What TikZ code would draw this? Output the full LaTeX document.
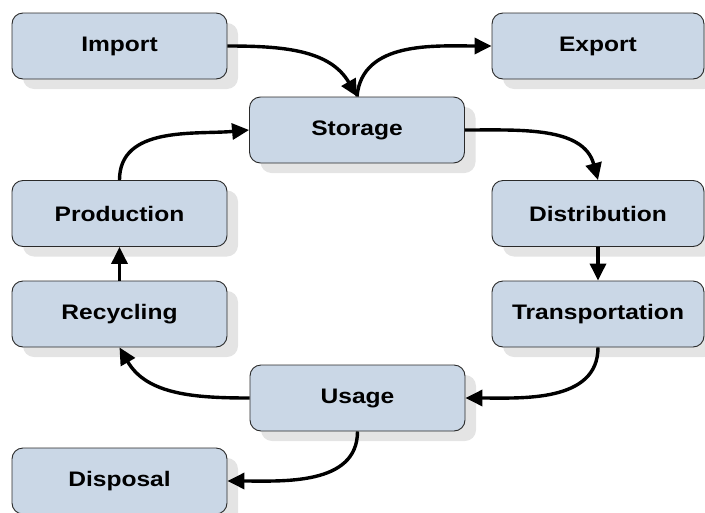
\documentclass[tikz,border=0pt]{standalone}
\usepackage{fontspec}
\setmainfont{Liberation Sans}[FakeStretch=1.17]
\usetikzlibrary{arrows.meta,shadows}
\definecolor{boxfill}{HTML}{CAD7E6}
\definecolor{boxline}{HTML}{2A2A2A}
\definecolor{shadowc}{HTML}{E4E4E4}
\begin{document}
\begin{tikzpicture}[x=1pt,y=-1pt,
  stepbox/.style={draw=boxline, line width=0.9pt, fill=boxfill, rounded corners=11pt,
    minimum width=215pt, minimum height=66pt, inner sep=0pt,
    font=\fontsize{21}{25}\selectfont\bfseries,
    drop shadow={shadow xshift=11pt, shadow yshift=-10pt, fill=shadowc, opacity=1}},
  narrowbox/.style={stepbox, minimum width=212pt},
  flow/.style={line width=3.4pt, -{Triangle[length=17pt,width=16pt]}}]
\useasboundingbox (0,0) rectangle (705,512);
\node[stepbox] (imp) at (119.5,46) {Import};
\node[narrowbox] (exp) at (598,46) {Export};
\node[stepbox] (sto) at (357,130) {Storage};
\node[stepbox] (pro) at (119.5,213.5) {Production};
\node[narrowbox] (dis) at (598,213.5) {Distribution};
\node[stepbox] (rec) at (119.5,314) {Recycling};
\node[narrowbox] (tra) at (598,314) {Transportation};
\node[stepbox] (usa) at (357.5,398) {Usage};
\node[stepbox] (dsp) at (119.5,481) {Disposal};
\draw[flow] (imp.east) to[out=0,in=120] (sto.north);
\draw[flow] (sto.north) to[out=85,in=180] (exp.west);
\draw[flow] (pro.north) to[out=90,in=185] (sto.west);
\draw[flow] (sto.east) to[out=0,in=105] (dis.north);
\draw[flow] (dis.south) -- (tra.north);
\draw[flow] (tra.south) to[out=-90,in=0] (usa.east);
\draw[flow] (usa.west) to[out=180,in=-60] (rec.south);
\draw[flow] (rec.north) -- (pro.south);
\draw[flow] (usa.south) to[out=-90,in=0] (dsp.east);
\end{tikzpicture}
\end{document}
